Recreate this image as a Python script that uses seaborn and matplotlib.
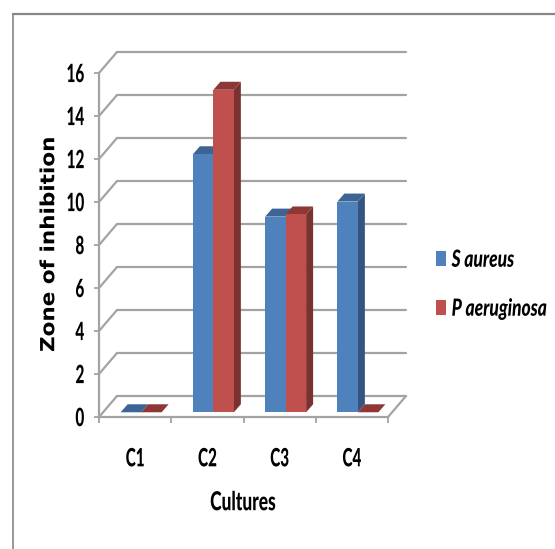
import matplotlib
matplotlib.use("Agg")
import matplotlib.pyplot as plt
import pandas as pd
import seaborn as sns
from matplotlib.lines import Line2D
from matplotlib.patches import Patch, Polygon
from matplotlib.patheffects import AbstractPathEffect
from matplotlib.transforms import Affine2D, IdentityTransform

categories = ["C1", "C2", "C3", "C4"]
s_aureus = [0, 12, 9.1, 9.8]
p_aeruginosa = [0, 15, 9.2, 0]
y_ticks = [0, 2, 4, 6, 8, 10, 12, 14, 16]
series_names = ["S aureus", "P aeruginosa"]

W, H, DPI = 555, 549, 100
GRID = "#a3a3a3"
FRONT = ["#4f81bd", "#c0504d"]
SIDE = ["#33557f", "#7a3230"]
TOP = ["#3c6494", "#8e3836"]


class Stretch(AbstractPathEffect):
    """Stretch the glyphs vertically around their own centre (the source image is stretched)."""

    def __init__(self, sy):
        super().__init__()
        self.sy = sy

    def draw_path(self, renderer, gc, tpath, affine, rgbFace=None):
        ext = tpath.get_extents()
        cy = (ext.y0 + ext.y1) / 2
        stretch = Affine2D().translate(0, -cy).scale(1, self.sy).translate(0, cy)
        renderer.draw_path(gc, tpath, stretch + affine, rgbFace)


sns.set_theme(style="white")
plt.rcParams["font.family"] = ["Lato", "DejaVu Sans"]

fig = plt.figure(figsize=(W / DPI, H / DPI), dpi=DPI, facecolor="white")
ax = fig.add_axes([99 / W, 1 - 417 / H, 289 / W, 344 / H], facecolor="none")

df = pd.DataFrame({
    "Culture": categories * 2,
    "Zone": s_aureus + p_aeruginosa,
    "Strain": [series_names[0]] * 4 + [series_names[1]] * 4,
})
sns.barplot(data=df, x="Culture", y="Zone", hue="Strain", palette=FRONT,
            width=0.567, gap=0, legend=False, saturation=1, ax=ax,
            bottom=0.22, linewidth=0)
ax.set_xlim(-0.5, 3.5)
ax.set_ylim(0, 16)

# back wall and floor, offset in pixels from the front plane
WALL_DX, WALL_DY = 18, 21
line_kw = dict(color=GRID, lw=1.6, clip_on=False, solid_capstyle="round", zorder=1)
pixels = IdentityTransform()
for v in y_ticks:
    (xl, yl), (xr, yr) = ax.transData.transform([(-0.5, v), (3.5, v)])
    ax.plot([xl + WALL_DX, xr + WALL_DX], [yl + WALL_DY, yr + WALL_DY], transform=pixels, **line_kw)
    ax.plot([xl, xl + WALL_DX], [yl, yl + WALL_DY], transform=pixels, **line_kw)
(xr, yr) = ax.transData.transform((3.5, 0))
ax.plot([xr, xr + WALL_DX], [yr, yr + WALL_DY], transform=pixels, **line_kw)

# extruded faces, built from the bars seaborn drew
DX, DY = 7, 8
for i, container in enumerate(ax.containers):
    z = 5 + 2 * i
    for bar in container:
        bar.set_x(bar.get_x() + 6 / 72.25)
        bar.set_zorder(z + 1)
        (xa, ya), (xb, yb) = ax.transData.transform(
            [(bar.get_x(), bar.get_y()), (bar.get_x() + bar.get_width(), bar.get_y() + bar.get_height())])
        for pts, col in (
            ([(xb, ya), (xb + DX, ya + DY), (xb + DX, yb + DY), (xb, yb)], SIDE[i]),
            ([(xa, yb), (xa + DX, yb + DY), (xb + DX, yb + DY), (xb, yb)], TOP[i]),
        ):
            ax.add_patch(Polygon(pts, closed=True, transform=pixels, facecolor=col,
                                 edgecolor="none", zorder=z, clip_on=False))

for name in ["top", "right"]:
    ax.spines[name].set_visible(False)
for name in ["left", "bottom"]:
    ax.spines[name].set_color(GRID)
    ax.spines[name].set_linewidth(1.6)
ax.set_yticks(y_ticks)
ax.set_xticks([-0.5, 0.5, 1.5, 2.5, 3.5], minor=True)
ax.set_xticks(range(4), categories)
ax.tick_params(axis="y", length=3.6, width=1.3, color=GRID, left=True, pad=7)
ax.tick_params(axis="x", which="minor", length=4.5, width=1.3, color=GRID, bottom=True)
ax.tick_params(axis="x", which="major", length=0, pad=25)
for lab in list(ax.get_yticklabels()) + list(ax.get_xticklabels()):
    lab.set(fontsize=11, fontweight="black", color="black", path_effects=[Stretch(1.65)])

ax.set_xlabel("Cultures", fontsize=12.5, fontweight="black", color="black",
              path_effects=[Stretch(1.5)], va="center")
ax.xaxis.set_label_coords(144 / 289, -85 / 344)
ax.set_ylabel("Zone of inhibition", fontsize=15.5, fontweight="bold", color="black",
              family="DejaVu Sans", va="center", path_effects=[Stretch(0.9)])
ax.yaxis.set_label_coords(-50 / 289, 172 / 344)

# legend
legend = ax.legend(handles=[Patch(facecolor=c, edgecolor="none", label=n) for c, n in zip(FRONT, series_names)],
                   loc="center left", bbox_to_anchor=(436 / W, 1 - 284 / H), bbox_transform=fig.transFigure,
                   frameon=False, fontsize=12.5, handlelength=0.6, handleheight=0.95, handletextpad=0.3,
                   labelspacing=1.9, borderpad=0, borderaxespad=0)
for t in legend.get_texts():
    t.set(fontweight="black", fontstyle="italic", color="black", path_effects=[Stretch(1.36)])

# outer frame: top and left only
fig.add_artist(Line2D([13 / W, 1], [1 - 14 / H] * 2, color="#868686", lw=1.6))
fig.add_artist(Line2D([13 / W] * 2, [1 - 14 / H, 0], color="#868686", lw=1.2))

fig.savefig("out.png", dpi=DPI)
